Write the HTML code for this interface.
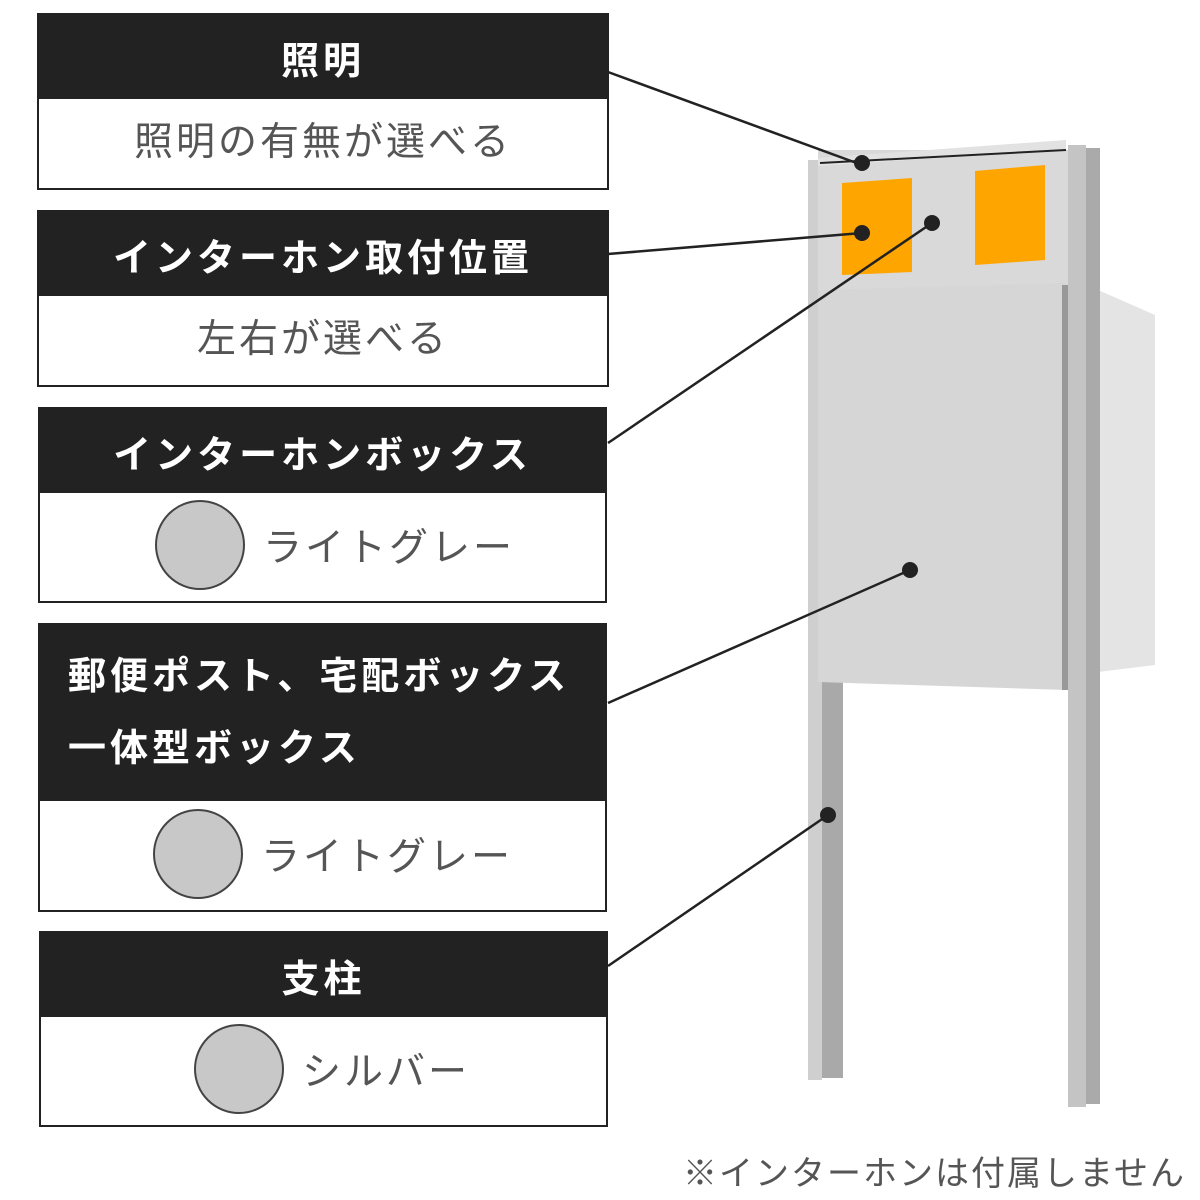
<!DOCTYPE html>
<html><head><meta charset="utf-8"><style>
body{margin:0;width:1200px;height:1200px;background:#fff;position:relative;overflow:hidden;font-family:"Liberation Sans","Noto Sans CJK JP",sans-serif}
.box{position:absolute;border:2px solid #222;box-sizing:border-box;background:#fff}
.hd{background:#222;color:#fff;font-weight:bold;font-size:38px;letter-spacing:4px;text-align:center;display:flex;align-items:center;justify-content:center}
.bd{color:#555;font-size:39px;letter-spacing:3px;display:flex;align-items:center;justify-content:center}
.c{width:90px;height:90px;border-radius:50%;background:#c8c8c8;border:2px solid #444;box-sizing:border-box;margin-right:18px}
svg{position:absolute;left:0;top:0}
</style></head><body>
<svg width="1200" height="1200">
<polygon points="1098,290 1155,315 1155,665 1098,672" fill="#e4e4e4"/>
<rect x="1068" y="145" width="18" height="962" fill="#c4c4c4"/>
<rect x="1086" y="148" width="14" height="956" fill="#aaa"/>
<rect x="808" y="160" width="14" height="920" fill="#cfcfcf"/>
<rect x="822" y="160" width="21" height="918" fill="#a9a9a9"/>
<rect x="818" y="150" width="250" height="140" fill="#d9d9d9"/>
<polygon points="818,158 1066,140 1066,150 818,166" fill="#e2e2e2"/>
<line x1="820" y1="163" x2="1066" y2="150" stroke="#222" stroke-width="2"/>
<polygon points="842,183 912,178 912,272 842,275" fill="#ffa500"/>
<polygon points="975,171 1045,165 1045,260 975,265" fill="#ffa500"/>
<polygon points="818,290 1066,283 1066,690 818,682" fill="#d6d6d6"/>
<rect x="1062" y="285" width="6" height="405" fill="#999"/>
<g stroke="#222" stroke-width="2.5">
<line x1="608" y1="72" x2="862" y2="165"/>
<line x1="608" y1="254" x2="862" y2="233"/>
<line x1="608" y1="443" x2="932" y2="223"/>
<line x1="608" y1="703" x2="910" y2="570"/>
<line x1="608" y1="966" x2="828" y2="815"/>
</g>
<g fill="#222">
<circle cx="862" cy="163" r="8"/><circle cx="862" cy="233" r="8"/><circle cx="932" cy="223" r="8"/><circle cx="910" cy="570" r="8"/><circle cx="828" cy="815" r="8"/>
</g>
</svg>
<div class="box" style="left:37px;top:13px;width:572px;height:177px"><div class="hd" style="height:84px">照明</div><div class="bd" style="height:80px">照明の有無が選べる</div></div>
<div class="box" style="left:37px;top:210px;width:572px;height:177px"><div class="hd" style="height:84px">インターホン取付位置</div><div class="bd" style="height:80px">左右が選べる</div></div>
<div class="box" style="left:38px;top:407px;width:569px;height:196px"><div class="hd" style="height:84px">インターホンボックス</div><div class="bd" style="height:104px;justify-content:flex-start;padding-left:115px"><div class="c"></div>ライトグレー</div></div>
<div class="box" style="left:38px;top:623px;width:569px;height:289px"><div class="hd" style="height:176px;display:block;text-align:left;padding:16px 0 0 28px;line-height:72px;box-sizing:border-box">郵便ポスト、宅配ボックス<br>一体型ボックス</div><div class="bd" style="height:105px;justify-content:flex-start;padding-left:113px"><div class="c"></div>ライトグレー</div></div>
<div class="box" style="left:39px;top:931px;width:569px;height:196px"><div class="hd" style="height:84px">支柱</div><div class="bd" style="height:104px;justify-content:flex-start;padding-left:153px"><div class="c"></div>シルバー</div></div>
<div style="position:absolute;right:14px;top:1146px;font-size:34px;color:#555;letter-spacing:2px">※インターホンは付属しません</div>
</body></html>
